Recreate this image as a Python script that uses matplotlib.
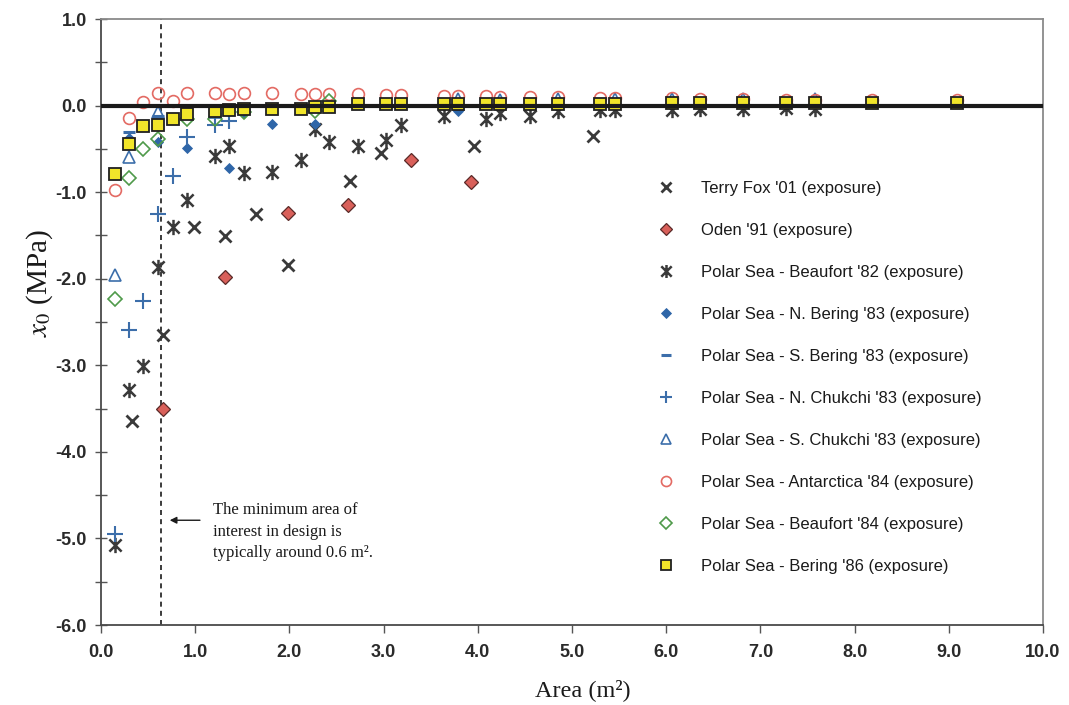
import matplotlib
matplotlib.use("Agg")
import matplotlib.pyplot as plt
from matplotlib.path import Path
from matplotlib.ticker import MultipleLocator, FormatStrFormatter

plt.rcParams['mathtext.fontset'] = 'stix'
plt.rcParams['axes.unicode_minus'] = False

# ---- data: ice pressure x0 (MPa) vs. contact area (m^2) ----
terry_fox_area = [0.33, 0.66, 0.99, 1.32, 1.65, 1.98, 2.64, 2.97, 3.96, 5.22]
terry_fox_x0 = [-3.64, -2.65, -1.40, -1.51, -1.25, -1.84, -0.87, -0.55, -0.47, -0.35]

oden_area = [0.66, 1.32, 1.98, 2.62, 3.29, 3.93]
oden_x0 = [-3.51, -1.98, -1.24, -1.15, -0.63, -0.88]

beaufort82_area = [0.15, 0.30, 0.45, 0.61, 0.76, 0.91, 1.21, 1.36, 1.52, 1.82, 2.12,
                   2.27, 2.42, 2.73, 3.03, 3.18, 3.64, 4.09, 4.24, 4.55, 4.85, 5.30,
                   5.46, 6.06, 6.36, 6.82, 7.27, 7.58]
beaufort82_x0 = [-5.08, -3.28, -3.01, -1.86, -1.40, -1.09, -0.58, -0.47, -0.78, -0.77, -0.63,
                 -0.27, -0.42, -0.47, -0.40, -0.23, -0.12, -0.15, -0.09, -0.12, -0.06, -0.05,
                 -0.05, -0.05, -0.04, -0.04, -0.03, -0.04]

n_bering83_area = [0.30, 0.61, 0.91, 1.36, 1.52, 1.82, 2.27, 3.79]
n_bering83_x0 = [-0.38, -0.42, -0.49, -0.72, -0.09, -0.21, -0.21, -0.06]

s_bering83_area = [0.30, 0.61, 1.21, 1.52, 2.27, 3.79]
s_bering83_x0 = [-0.30, -0.12, -0.10, -0.05, -0.03, -0.04]

n_chukchi83_area = [0.15, 0.30, 0.45, 0.61, 0.76, 0.91, 1.21, 1.36]
n_chukchi83_x0 = [-4.95, -2.59, -2.26, -1.25, -0.81, -0.36, -0.23, -0.18]

s_chukchi83_area = [0.15, 0.30, 0.61, 1.21, 3.79, 4.24, 4.85, 5.46, 6.06, 6.82, 7.58]
s_chukchi83_x0 = [-1.96, -0.59, -0.08, -0.08, 0.08, 0.07, 0.08, 0.08, 0.08, 0.08, 0.08]

antarctica84_area = [0.15, 0.30, 0.45, 0.61, 0.76, 0.91, 1.21, 1.36, 1.52, 1.82, 2.12,
                     2.27, 2.42, 2.73, 3.03, 3.18, 3.64, 3.79, 4.09, 4.24, 4.55, 4.85,
                     5.30, 5.46, 6.06, 6.36, 6.82, 7.27, 7.58, 8.18, 9.09]
antarctica84_x0 = [-0.98, -0.14, 0.04, 0.14, 0.05, 0.14, 0.15, 0.13, 0.15, 0.14, 0.13,
                   0.13, 0.13, 0.13, 0.12, 0.12, 0.11, 0.11, 0.11, 0.10, 0.10, 0.10,
                   0.09, 0.09, 0.09, 0.08, 0.08, 0.07, 0.07, 0.07, 0.06]

beaufort84_area = [0.15, 0.30, 0.45, 0.61, 0.91, 1.21, 1.52, 2.27, 2.42]
beaufort84_x0 = [-2.24, -0.84, -0.50, -0.39, -0.15, -0.15, -0.08, -0.06, 0.05]

bering86_area = [0.15, 0.30, 0.45, 0.61, 0.76, 0.91, 1.21, 1.36, 1.52, 1.82, 2.12,
                 2.27, 2.42, 2.73, 3.03, 3.18, 3.64, 3.79, 4.09, 4.24, 4.55, 4.85,
                 5.30, 5.46, 6.06, 6.36, 6.82, 7.27, 7.58, 8.18, 9.09]
bering86_x0 = [-0.79, -0.44, -0.24, -0.22, -0.15, -0.10, -0.06, -0.05, -0.04, -0.04, -0.04,
               -0.02, -0.02, 0.02, 0.02, 0.02, 0.02, 0.02, 0.02, 0.02, 0.02, 0.02,
               0.02, 0.02, 0.03, 0.03, 0.03, 0.03, 0.03, 0.03, 0.03]

series_labels = ["Terry Fox '01 (exposure)", "Oden '91 (exposure)",
                 "Polar Sea - Beaufort '82 (exposure)", "Polar Sea - N. Bering '83 (exposure)",
                 "Polar Sea - S. Bering '83 (exposure)", "Polar Sea - N. Chukchi '83 (exposure)",
                 "Polar Sea - S. Chukchi '83 (exposure)", "Polar Sea - Antarctica '84 (exposure)",
                 "Polar Sea - Beaufort '84 (exposure)", "Polar Sea - Bering '86 (exposure)"]

design_area = 0.64

# asterisk marker: an X crossed by a vertical bar
asterisk = Path([(-1, -1), (1, 1), (-1, 1), (1, -1), (0, -1.25), (0, 1.25)],
                [Path.MOVETO, Path.LINETO, Path.MOVETO, Path.LINETO, Path.MOVETO, Path.LINETO])

dark = '#3a3a3a'
blue = '#3c6eaa'

fig = plt.figure(figsize=(10.69, 7.05), dpi=100)
ax = fig.add_axes([101 / 1069, 80 / 705, (1043 - 101) / 1069, (625 - 19) / 705])

styles = [
    (terry_fox_area, terry_fox_x0, dict(marker='x', ms=9, mew=2.0, color=dark, mfc='none')),
    (oden_area, oden_x0, dict(marker='D', ms=7, mew=0.9, mfc='#d9605a', mec='#5a2a28')),
    (beaufort82_area, beaufort82_x0, dict(marker=asterisk, ms=11, mew=1.8, color=dark)),
    (n_bering83_area, n_bering83_x0, dict(marker='D', ms=5.5, mew=0.6, mfc='#2f66a8', mec='#2f66a8')),
    (s_bering83_area, s_bering83_x0, dict(marker='_', ms=9, mew=2.2, color=blue)),
    (n_chukchi83_area, n_chukchi83_x0, dict(marker='+', ms=11, mew=1.5, color=blue)),
    (s_chukchi83_area, s_chukchi83_x0, dict(marker='^', ms=8, mew=1.2, mfc='none', mec=blue)),
    (antarctica84_area, antarctica84_x0, dict(marker='o', ms=8.5, mew=1.2, mfc='none', mec='#e36a63')),
    (beaufort84_area, beaufort84_x0, dict(marker='D', ms=7, mew=1.2, mfc='none', mec='#4f9a4a')),
    (bering86_area, bering86_x0, dict(marker='s', ms=8.5, mew=1.3, mfc='#f1e52a', mec='#202020')),
]
for (xs, ys, st), lab in zip(styles, series_labels):
    ax.plot(xs, ys, ls='none', label=lab, zorder=2, **st)

# zero reference line and design-area marker
ax.axhline(0, color='#1a1a1a', lw=3.0, zorder=3)
ax.axvline(design_area, color='#1a1a1a', lw=1.2, ls=(0, (3, 2.5)), zorder=1)

ax.annotate('', xy=(0.70, -4.79), xytext=(1.08, -4.79),
            arrowprops=dict(arrowstyle='-|>', color='#1a1a1a', lw=1.0, mutation_scale=10))
ax.text(1.19, -4.92, "The minimum area of\ninterest in design is\ntypically around 0.6 m\u00b2.",
        family='Liberation Serif', fontsize=12, va='center', ha='left', linespacing=1.45,
        color='#1a1a1a')

ax.set_xlim(0, 10)
ax.set_ylim(-6, 1)
ax.xaxis.set_major_locator(MultipleLocator(1.0))
ax.yaxis.set_major_locator(MultipleLocator(1.0))
ax.yaxis.set_minor_locator(MultipleLocator(0.5))
ax.xaxis.set_major_formatter(FormatStrFormatter('%.1f'))
ax.yaxis.set_major_formatter(FormatStrFormatter('%.1f'))
ax.tick_params(axis='x', which='major', direction='out', length=6, width=1, color='#555555', pad=8)
ax.tick_params(axis='y', which='both', direction='inout', length=8, width=1, color='#555555', pad=6)
for lbl in ax.get_xticklabels() + ax.get_yticklabels():
    lbl.set_family('Liberation Sans')
    lbl.set_fontweight('bold')
    lbl.set_fontsize(13)
    lbl.set_color('#2a2a2a')

for side in ['left', 'bottom']:
    ax.spines[side].set_color('#4a4a4a')
    ax.spines[side].set_linewidth(1.3)
for side in ['top', 'right']:
    ax.spines[side].set_color('#8a8a8a')
    ax.spines[side].set_linewidth(1.3)

fig.text(40 / 1069, 1 - 283 / 705, r"$\mathit{x_0}$ (MPa)", rotation=90, ha='center', va='center',
         family='Liberation Serif', fontsize=21, color='#1a1a1a')
fig.text(583 / 1069, 1 - 690 / 705, "Area (m\u00b2)", ha='center', va='center',
         family='Liberation Serif', fontsize=17.5, color='#1a1a1a')

leg = ax.legend(loc='upper left', bbox_to_anchor=(656 / 1069, 1 - 181 / 705),
                bbox_transform=fig.transFigure, frameon=False, borderpad=0,
                borderaxespad=0, labelspacing=1.62, handlelength=1.2, handletextpad=1.5,
                prop={'family': 'Liberation Sans', 'size': 12}, numpoints=1, markerscale=0.85)
for t in leg.get_texts():
    t.set_color('#1a1a1a')

fig.savefig('out.png', dpi=100)
